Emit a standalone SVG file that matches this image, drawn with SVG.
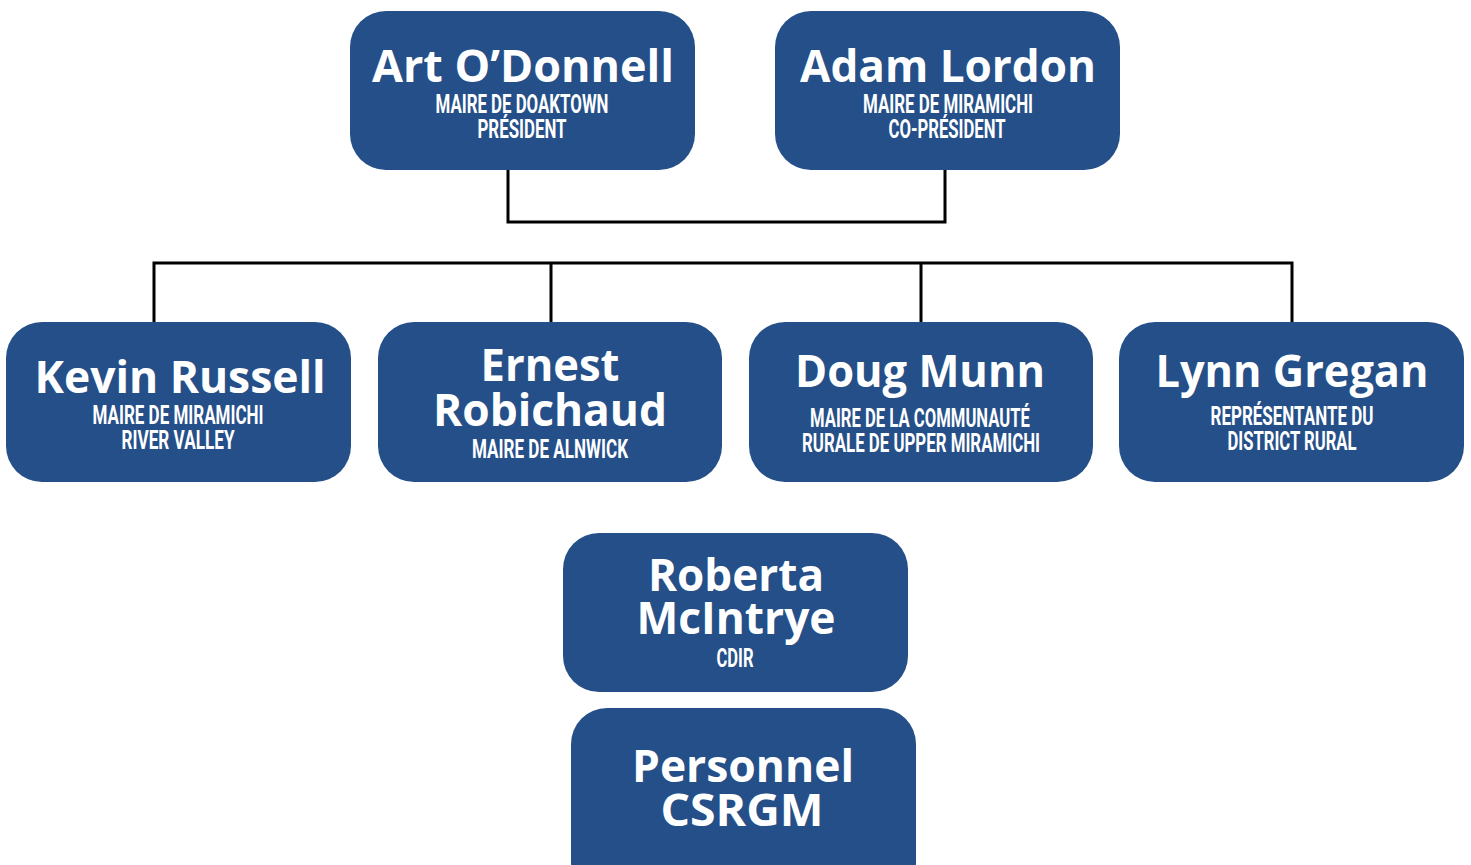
<svg xmlns="http://www.w3.org/2000/svg" width="1471" height="865" viewBox="0 0 1471 865">
<style>
.box{fill:#254F88}
.t{font-family:"Open Sans","Noto Sans",sans-serif;font-weight:700;font-size:45px;fill:#fff;text-anchor:middle}
.s{font-family:Roboto,"Liberation Sans",sans-serif;font-weight:700;font-size:25px;fill:#fff;text-anchor:middle}
.c{fill:none;stroke:#000;stroke-width:3}
</style>
<rect width="1471" height="865" fill="#fff"/>
<g id="connectors">
<path class="c" d="M508 170 V222 H945 V170"/>
<path class="c" d="M154 322 V263 H1292 V322 M551 263 V322 M921 263 V322"/>
</g>
<g id="art">
<rect class="box" x="350" y="11" width="345" height="159" rx="36"/>
<text class="t" x="523" y="82" textLength="302" lengthAdjust="spacingAndGlyphs">Art O’Donnell</text>
<text class="s" x="522" y="113" textLength="173" lengthAdjust="spacingAndGlyphs">MAIRE DE DOAKTOWN</text>
<text class="s" x="522" y="138" textLength="89" lengthAdjust="spacingAndGlyphs">PRÉSIDENT</text>
</g>
<g id="adam">
<rect class="box" x="775" y="11" width="345" height="159" rx="36"/>
<text class="t" x="948" y="82" textLength="296" lengthAdjust="spacingAndGlyphs">Adam Lordon</text>
<text class="s" x="948" y="113" textLength="170" lengthAdjust="spacingAndGlyphs">MAIRE DE MIRAMICHI</text>
<text class="s" x="947" y="138" textLength="117" lengthAdjust="spacingAndGlyphs">CO-PRÉSIDENT</text>
</g>
<g id="kevin">
<rect class="box" x="6" y="322" width="345" height="160" rx="36"/>
<text class="t" x="180" y="393" textLength="291" lengthAdjust="spacingAndGlyphs">Kevin Russell</text>
<text class="s" x="178" y="424" textLength="171" lengthAdjust="spacingAndGlyphs">MAIRE DE MIRAMICHI</text>
<text class="s" x="178" y="449" textLength="113" lengthAdjust="spacingAndGlyphs">RIVER VALLEY</text>
</g>
<g id="ernest">
<rect class="box" x="378" y="322" width="344" height="160" rx="36"/>
<text class="t" x="550" y="381" textLength="139" lengthAdjust="spacingAndGlyphs">Ernest</text>
<text class="t" x="550" y="426" textLength="234" lengthAdjust="spacingAndGlyphs">Robichaud</text>
<text class="s" x="550" y="458" textLength="156" lengthAdjust="spacingAndGlyphs">MAIRE DE ALNWICK</text>
</g>
<g id="doug">
<rect class="box" x="749" y="322" width="344" height="160" rx="36"/>
<text class="t" x="920" y="387" textLength="250" lengthAdjust="spacingAndGlyphs">Doug Munn</text>
<text class="s" x="920" y="427" textLength="220" lengthAdjust="spacingAndGlyphs">MAIRE DE LA COMMUNAUTÉ</text>
<text class="s" x="921" y="452" textLength="238" lengthAdjust="spacingAndGlyphs">RURALE DE UPPER MIRAMICHI</text>
</g>
<g id="lynn">
<rect class="box" x="1119" y="322" width="345" height="160" rx="36"/>
<text class="t" x="1292" y="387" textLength="273" lengthAdjust="spacingAndGlyphs">Lynn Gregan</text>
<text class="s" x="1292" y="425" textLength="163" lengthAdjust="spacingAndGlyphs">REPRÉSENTANTE DU</text>
<text class="s" x="1292" y="450" textLength="129" lengthAdjust="spacingAndGlyphs">DISTRICT RURAL</text>
</g>
<g id="roberta">
<rect class="box" x="563" y="533" width="345" height="159" rx="36"/>
<text class="t" x="736" y="591" textLength="176" lengthAdjust="spacingAndGlyphs">Roberta</text>
<text class="t" x="736" y="634" textLength="199" lengthAdjust="spacingAndGlyphs">McIntrye</text>
<text class="s" x="735" y="667" textLength="37" lengthAdjust="spacingAndGlyphs">CDIR</text>
</g>
<g id="personnel">
<rect class="box" x="571" y="708" width="345" height="190" rx="36"/>
<text class="t" x="743" y="782" textLength="222" lengthAdjust="spacingAndGlyphs">Personnel</text>
<text class="t" x="742" y="826" textLength="163" lengthAdjust="spacingAndGlyphs">CSRGM</text>
</g>
</svg>
